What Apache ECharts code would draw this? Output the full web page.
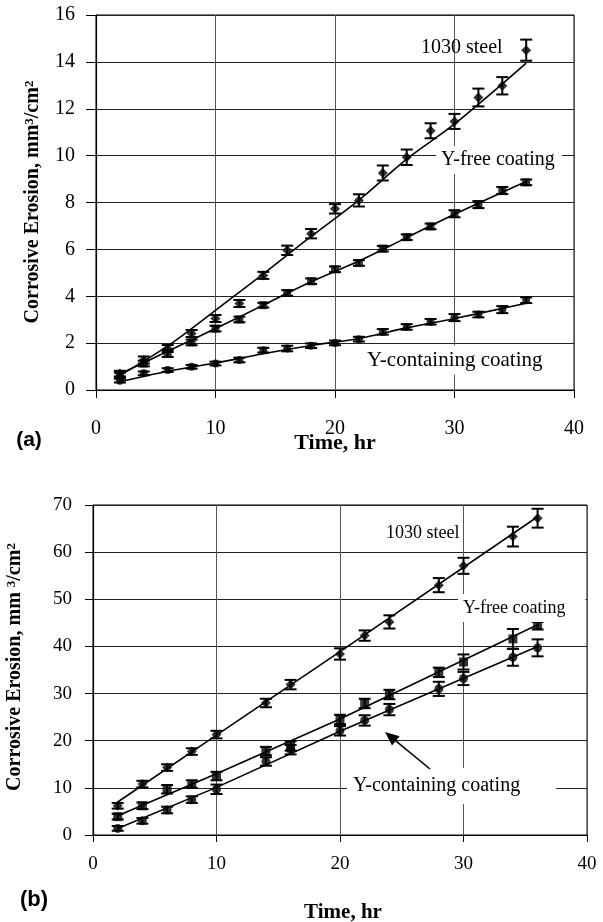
<!DOCTYPE html>
<html>
<head>
<meta charset="utf-8">
<script src="https://cdn.jsdelivr.net/npm/echarts@6/dist/echarts.min.js"></script>
<style>
html, body { margin: 0; padding: 0; background: #fff; }
#chart { width: 603px; height: 922px; }
</style>
</head>
<body>
<div id="chart"></div>
<script>
// panel (a)
const timeA = [2, 4, 6, 8, 10, 12, 14, 16, 18, 20, 22, 24, 26, 28, 30, 32, 34, 36]
const steelA = [0.70, 1.28, 1.77, 2.41, 3.05, 3.69, 4.89, 5.96, 6.67, 7.73, 8.09, 9.26, 9.93, 11.06, 11.46, 12.48, 12.98, 14.5]
const steelErrA = [0.12, 0.15, 0.15, 0.15, 0.15, 0.15, 0.15, 0.2, 0.2, 0.2, 0.26, 0.32, 0.33, 0.32, 0.32, 0.38, 0.37, 0.45]
const freeA = [0.65, 1.13, 1.56, 2.03, 2.62, 3.01, 3.62, 4.14, 4.64, 5.15, 5.42, 6.03, 6.52, 6.98, 7.52, 7.91, 8.51, 8.86]
const freeErrA = [0.1, 0.12, 0.15, 0.12, 0.12, 0.12, 0.1, 0.12, 0.12, 0.12, 0.12, 0.12, 0.12, 0.12, 0.15, 0.15, 0.15, 0.12]
const yContA = [0.40, 0.71, 0.85, 0.99, 1.13, 1.28, 1.70, 1.77, 1.89, 2.01, 2.17, 2.48, 2.69, 2.91, 3.09, 3.22, 3.43, 3.83]
const yContErrA = [0.08, 0.08, 0.08, 0.08, 0.08, 0.1, 0.1, 0.12, 0.1, 0.1, 0.1, 0.12, 0.12, 0.12, 0.15, 0.12, 0.15, 0.12]
const fitTimeA = [2, 6, 10, 14, 18, 22, 26, 30, 36]
const steelFitA = [0.62, 1.88, 3.4, 4.95, 6.55, 8.1, 9.85, 11.35, 13.95]
const freeFitA = [0.68, 1.65, 2.62, 3.62, 4.62, 5.5, 6.5, 7.5, 8.9]
const yContFitA = [0.35, 0.8, 1.15, 1.55, 1.9, 2.2, 2.65, 3.05, 3.7]

// panel (b)
const timeB = [2, 4, 6, 8, 10, 14, 16, 20, 22, 24, 28, 30, 34, 36]
const steelB = [6.2, 10.8, 14.3, 17.7, 21.3, 28.0, 31.9, 38.4, 42.3, 45.2, 53.0, 57.1, 63.3, 67.2]
const steelErrB = [0.6, 0.7, 0.7, 0.7, 0.8, 0.9, 1.0, 1.2, 1.1, 1.4, 1.5, 1.7, 2.1, 2.0]
const freeB = [3.9, 6.2, 9.7, 10.8, 12.5, 17.8, 18.9, 24.5, 27.9, 29.8, 34.5, 36.7, 41.6, 44.4]
const freeErrB = [0.6, 0.7, 0.9, 0.8, 0.9, 0.9, 1.0, 1.0, 1.0, 1.0, 1.0, 1.6, 2.1, 0.8]
const yContB = [1.4, 3.0, 5.3, 7.5, 9.7, 15.6, 18.1, 22.1, 24.3, 26.6, 31.0, 33.2, 37.7, 39.7]
const yContErrB = [0.5, 0.6, 0.7, 0.7, 1.0, 0.9, 1.0, 1.0, 1.1, 1.2, 1.5, 1.4, 1.8, 1.8]
const fitTimeB = [2, 10, 20, 36]
const steelFitB = [7.0, 21.2, 38.9, 67.5]
const freeFitB = [4.1, 13.0, 24.6, 44.6]
const yContFitB = [1.4, 10.1, 22.0, 40.0]

const SERIF = '"Liberation Serif", "DejaVu Serif", serif'
const SANS = '"Liberation Sans", Arial, sans-serif'

function zip(xs, ys) {
  return xs.map((x, i) => [x, ys[i]])
}

function errorBar(params, api) {
  const x = api.value(0)
  const lo = api.coord([x, api.value(1)])
  const hi = api.coord([x, api.value(2)])
  const half = 6
  const style = { stroke: '#000', lineWidth: 2 }
  return {
    type: 'group',
    children: [
      { type: 'line', shape: { x1: hi[0], y1: hi[1], x2: lo[0], y2: lo[1] }, style },
      { type: 'line', shape: { x1: hi[0] - half, y1: hi[1], x2: hi[0] + half, y2: hi[1] }, style },
      { type: 'line', shape: { x1: lo[0] - half, y1: lo[1], x2: lo[0] + half, y2: lo[1] }, style }
    ]
  }
}

function panelSeries(idx, times, groups, fitTimes, smooth) {
  const out = []
  groups.forEach((g) => {
    out.push({
      type: 'line',
      xAxisIndex: idx,
      yAxisIndex: idx,
      data: zip(fitTimes, g.fit),
      smooth: smooth ? 0.35 : false,
      showSymbol: false,
      lineStyle: { color: '#000', width: 1.6 },
      silent: true,
      z: 3
    })
    out.push({
      type: 'custom',
      xAxisIndex: idx,
      yAxisIndex: idx,
      renderItem: errorBar,
      data: times.map((t, i) => [t, g.values[i] - g.err[i], g.values[i] + g.err[i]]),
      z: 4
    })
    out.push({
      type: 'scatter',
      xAxisIndex: idx,
      yAxisIndex: idx,
      data: zip(times, g.values),
      symbol: g.symbol,
      symbolSize: g.size,
      itemStyle: { color: '#000' },
      z: 5
    })
  })
  return out
}

function xAxisFor(idx, fontSize, margin, tickLen) {
  return {
    type: 'value',
    gridIndex: idx,
    min: 0,
    max: 40,
    interval: 10,
    axisLine: { show: true, onZero: false, lineStyle: { color: '#000', width: 1.2 } },
    axisTick: { show: true, inside: false, length: tickLen, lineStyle: { color: '#000' } },
    axisLabel: { color: '#000', fontFamily: SERIF, fontSize, margin },
    splitLine: { show: true, lineStyle: { color: '#555', width: 1 } }
  }
}

function yAxisFor(idx, max, interval, fontSize, tickLen) {
  return {
    type: 'value',
    gridIndex: idx,
    min: 0,
    max,
    interval,
    axisLine: { show: true, onZero: false, lineStyle: { color: '#000', width: 1.2 } },
    axisTick: { show: true, inside: false, length: tickLen, lineStyle: { color: '#000' } },
    axisLabel: { color: '#000', fontFamily: SERIF, fontSize, margin: 21 },
    splitLine: { show: true, lineStyle: { color: '#222', width: 1 } }
  }
}

function label(text, x, y, fontSize, opts = {}) {
  return {
    type: 'text',
    x,
    y,
    z: 50,
    rotation: opts.rotation || 0,
    style: Object.assign({
      text,
      x: 0,
      y: 0,
      fill: '#000',
      fontFamily: opts.family || SERIF,
      fontSize,
      fontWeight: opts.bold ? 'bold' : 'normal',
      align: opts.align || 'left',
      verticalAlign: 'middle'
    }, opts.style || {})
  }
}

function yTitle(x, y, spacer) {
  const supStyle = { fontSize: 13, fontWeight: 'bold', fontFamily: SERIF, verticalAlign: 'top', fill: '#000' }
  return label('Corrosive Erosion, mm' + spacer + '{sup|3}/cm{sup|2}', x, y, 20, {
    bold: true,
    align: 'center',
    rotation: Math.PI / 2,
    style: { rich: { sup: supStyle } }
  })
}

// white boxes hide the gridlines behind the in-plot notes, as in the scan
const boxA1 = { backgroundColor: '#fff', padding: [4, 7, 4, 5] }
const boxA2 = { backgroundColor: '#fff', padding: [4, 14, 4, 5] }
const boxB1 = { backgroundColor: '#fff', padding: [5, 20, 5, 5] }
const boxB2 = { backgroundColor: '#fff', padding: [8, 36, 8, 6] }

const chart = echarts.init(document.getElementById('chart'))

chart.setOption({
  animation: false,
  backgroundColor: '#fff',
  grid: [
    { left: 96, right: 29, top: 15, bottom: 532, show: true, borderColor: '#000', borderWidth: 1 },
    { left: 93, right: 16, top: 505, bottom: 87, show: true, borderColor: '#000', borderWidth: 1 }
  ],
  xAxis: [xAxisFor(0, 20, 29, 8), xAxisFor(1, 19, 20, 7)],
  yAxis: [yAxisFor(0, 16, 2, 20, 10), yAxisFor(1, 70, 10, 19, 8)],
  series: [
    ...panelSeries(0, timeA, [
      { values: steelA, err: steelErrA, fit: steelFitA, symbol: 'diamond', size: 10 },
      { values: freeA, err: freeErrA, fit: freeFitA, symbol: 'rect', size: 8 },
      { values: yContA, err: yContErrA, fit: yContFitA, symbol: 'circle', size: 8 }
    ], fitTimeA, true),
    ...panelSeries(1, timeB, [
      { values: steelB, err: steelErrB, fit: steelFitB, symbol: 'diamond', size: 10 },
      { values: freeB, err: freeErrB, fit: freeFitB, symbol: 'rect', size: 9 },
      { values: yContB, err: yContErrB, fit: yContFitB, symbol: 'circle', size: 9 }
    ], fitTimeB, false)
  ],
  graphic: [
    // panel (a) annotations
    label('1030 steel', 421, 48, 20),
    label('Y-free coating', 436, 160, 20, { style: boxA1 }),
    label('Y-containing coating', 362, 360, 21, { style: boxA2 }),
    label('Time, hr', 335, 443, 22, { bold: true, align: 'center' }),
    label('(a)', 29, 440, 21, { bold: true, align: 'center', family: SANS }),
    yTitle(33, 202, ''),
    // panel (b) annotations
    label('1030 steel', 386, 533, 18),
    label('Y-free coating', 458, 608, 18, { style: boxB1 }),
    label('Y-containing coating', 347, 786, 20, { style: boxB2 }),
    { type: 'line', z: 50, shape: { x1: 430, y1: 769, x2: 395.8, y2: 740.9 }, style: { stroke: '#000', lineWidth: 1.6 } },
    { type: 'polygon', z: 50, shape: { points: [[385, 732], [399.6, 736.3], [392, 745.5]] }, style: { fill: '#000' } },
    label('Time, hr', 343, 913, 21, { bold: true, align: 'center' }),
    label('(b)', 34, 900, 22, { bold: true, align: 'center', family: SANS }),
    yTitle(15, 667, ' ')
  ]
})
</script>
</body>
</html>
